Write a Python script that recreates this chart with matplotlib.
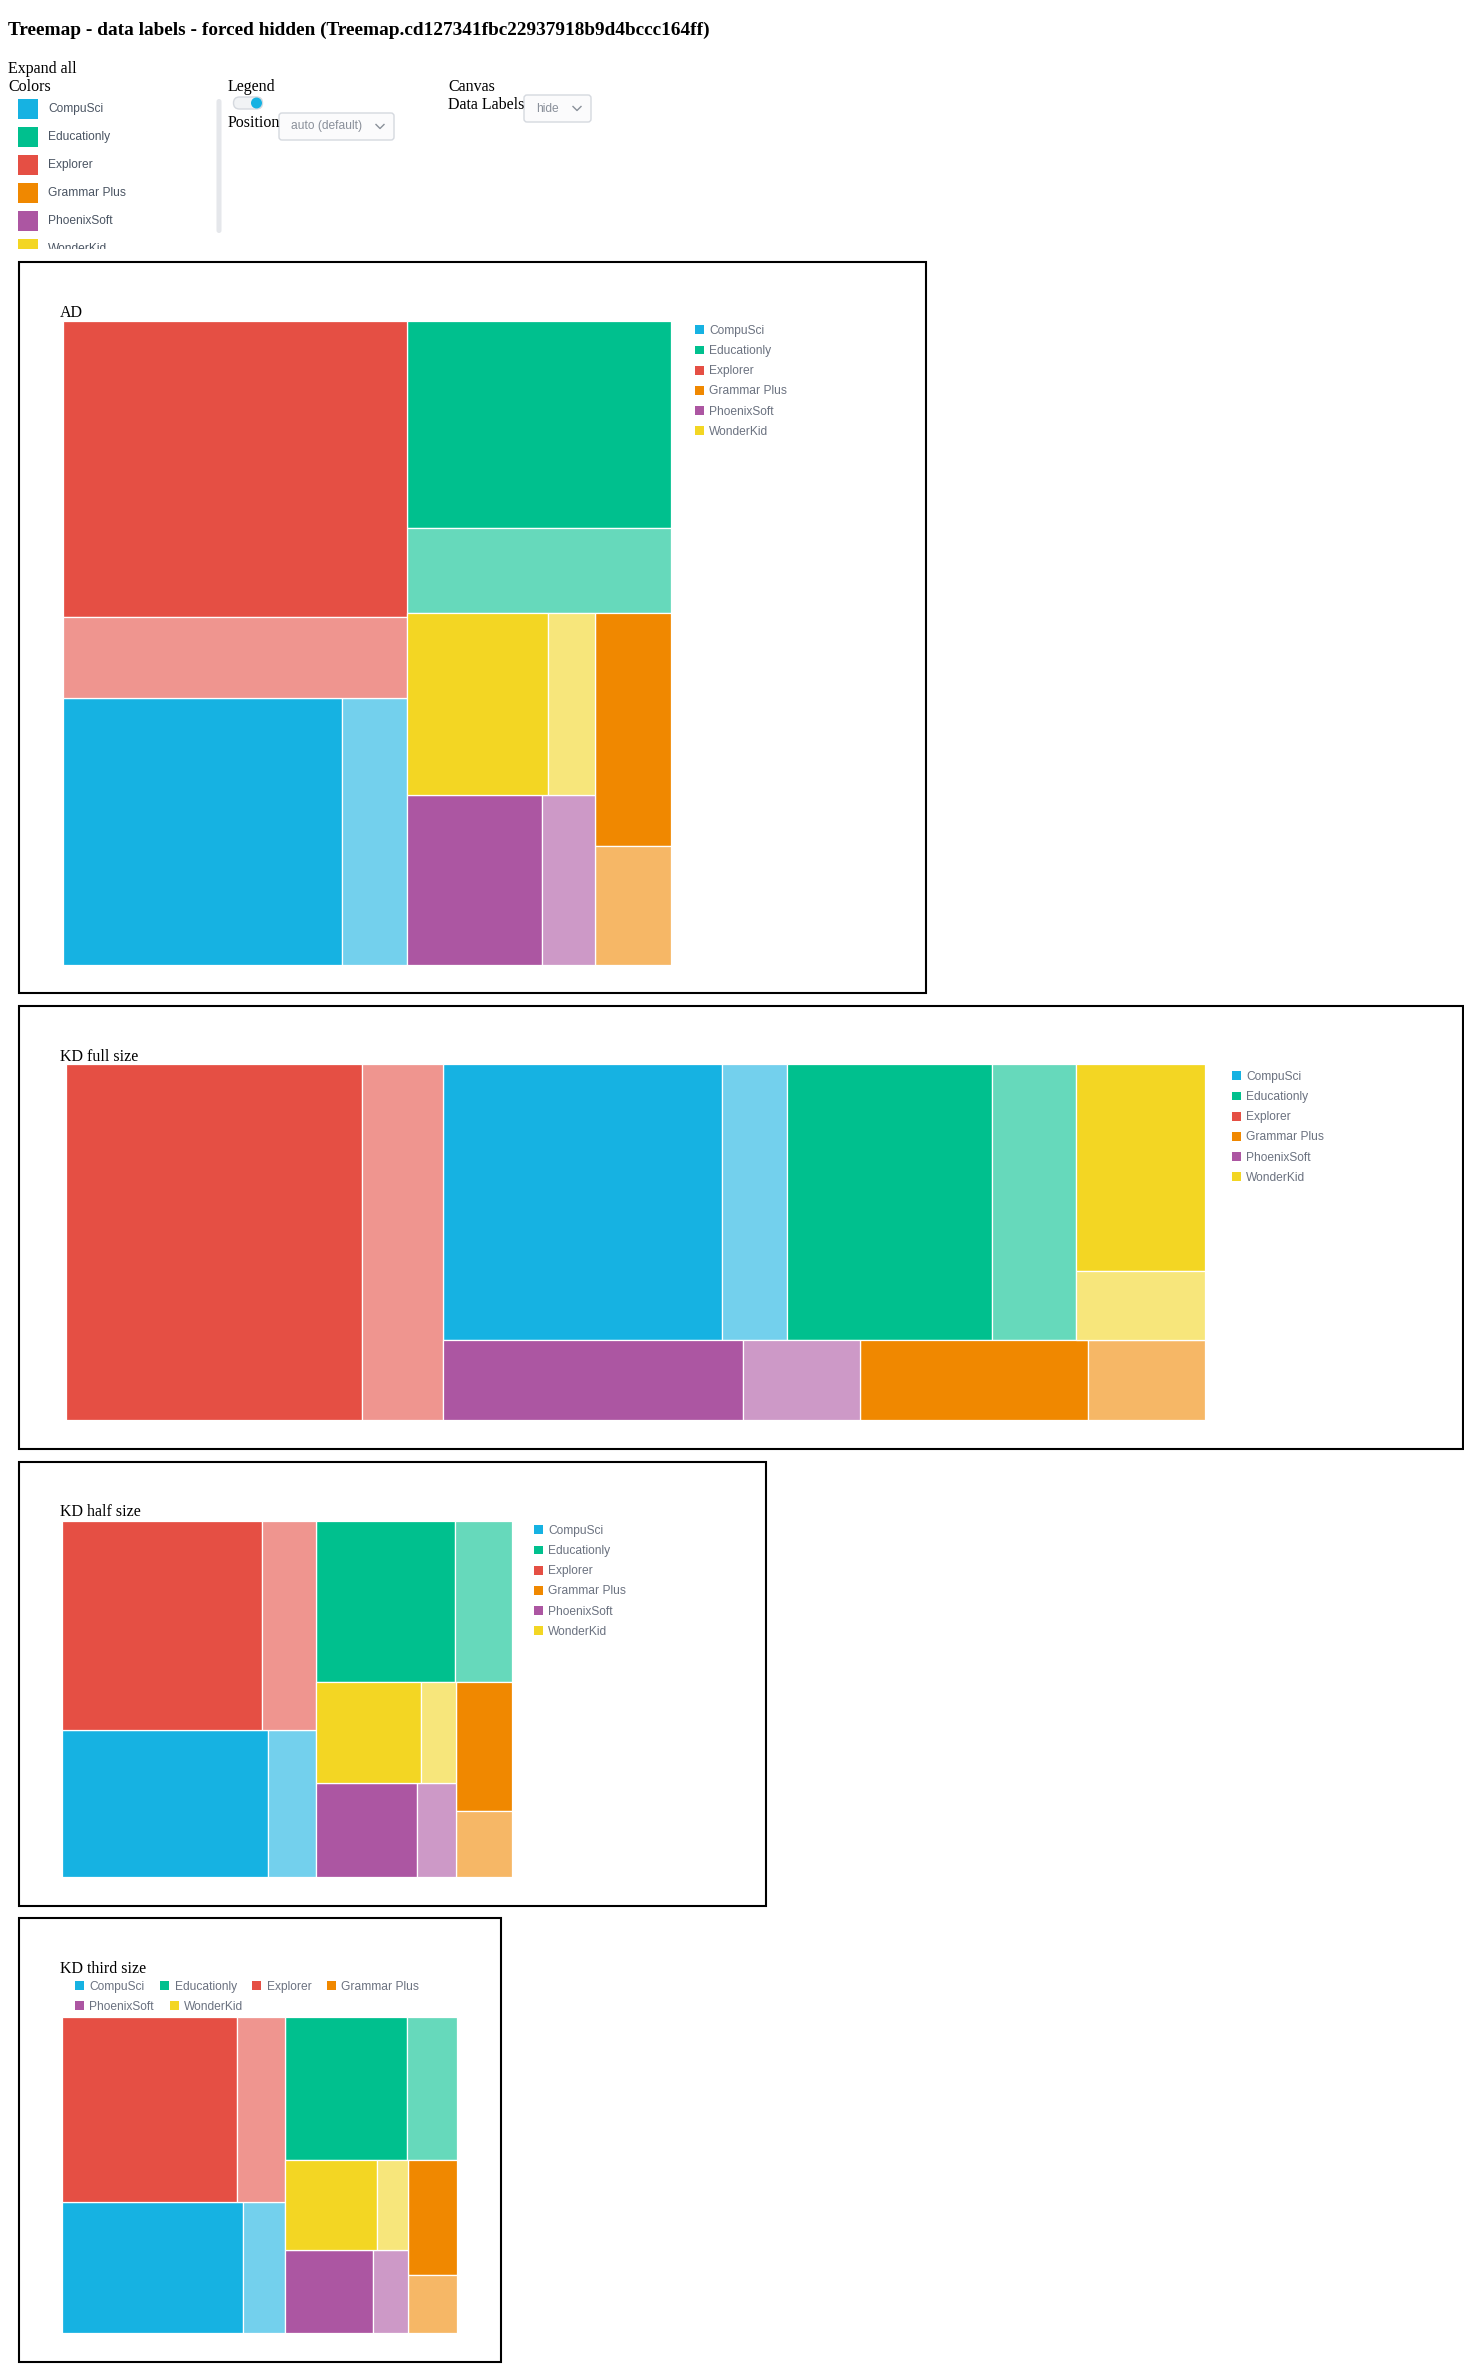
import matplotlib
matplotlib.use('Agg')
import matplotlib.pyplot as plt
from matplotlib.patches import Rectangle, FancyBboxPatch, Circle, Patch
from matplotlib.colors import to_rgba

# page size in pixels (dpi 100)
W, H = 1464, 2373

# data: each company has a main block and a smaller "other" block
companies = ['CompuSci', 'Educationly', 'Explorer', 'Grammar Plus', 'PhoenixSoft', 'WonderKid']
main_values = [190, 140, 260, 45, 59, 66]
other_values = [44, 57, 71, 23, 23, 22]
company_colors = ['#16b2e2', '#00c08e', '#e54f44', '#f08800', '#ac56a2', '#f3d623']

chart_titles = ['AD', 'KD full size', 'KD half size', 'KD third size']
page_title = 'Treemap - data labels - forced hidden (Treemap.cd127341fbc22937918b9d4bccc164ff)'

# strip plans: ('left', names) = column on the left edge, ('top', names) = row along the top
plan_ad = [('left', ['Explorer', 'CompuSci']), ('top', ['Educationly']),
           ('left', ['WonderKid', 'PhoenixSoft']), ('left', ['Grammar Plus'])]
plan_kd_full = [('left', ['Explorer']), ('top', ['CompuSci', 'Educationly', 'WonderKid']),
                ('top', ['PhoenixSoft', 'Grammar Plus'])]

SERIF = 'Liberation Serif'
SANS = 'Liberation Sans'

fig = plt.figure(figsize=(W / 100, H / 100), dpi=100)


def px_axes(x, y, w, h):
    # axes whose data coords are page pixels (y downwards)
    ax = fig.add_axes([x / W, 1 - (y + h) / H, w / W, h / H])
    ax.set_xlim(x, x + w)
    ax.set_ylim(y + h, y)
    ax.axis('off')
    return ax


def strip_layout(values, plan, x, y, w, h):
    total = sum(values[n] for _, grp in plan for n in grp)
    rects = {}
    for side, grp in plan:
        s = sum(values[n] for n in grp)
        if side == 'left':
            cw = w * s / total
            yy = y
            for n in grp:
                hh = h * values[n] / s
                rects[n] = (x, yy, cw, hh)
                yy += hh
            x += cw
            w -= cw
        else:
            rh = h * s / total
            xx = x
            for n in grp:
                ww = w * values[n] / s
                rects[n] = (xx, y, ww, rh)
                xx += ww
            y += rh
            h -= rh
        total -= s
    return rects


def draw_treemap(x, y, w, h, plan):
    ax = px_axes(x, y, w, h)
    totals = {c: m + o for c, m, o in zip(companies, main_values, other_values)}
    boxes = strip_layout(totals, plan, x, y, w, h)
    for c, m, o, col in zip(companies, main_values, other_values, company_colors):
        bx, by, bw, bh = boxes[c]
        side = 'top' if bw >= bh else 'left'
        parts = strip_layout({'main': m, 'other': o}, [(side, ['main', 'other'])], bx, by, bw, bh)
        for key, alpha in (('main', 1.0), ('other', 0.6)):
            rx, ry, rw, rh = parts[key]
            ax.add_patch(Rectangle((rx, ry), rw, rh, facecolor=to_rgba(col, alpha),
                                   edgecolor='white', linewidth=0.9))
    return ax


def draw_legend(x, y, names, colors, ncol=1):
    handles = [Patch(facecolor=c, edgecolor='none') for c in colors]
    fig.legend(handles, names, loc='upper left', bbox_to_anchor=(x / W, 1 - y / H),
               ncol=ncol, frameon=False, borderpad=0, borderaxespad=0,
               handlelength=0.75, handleheight=0.75, handletextpad=0.45,
               labelspacing=0.68, columnspacing=1.3,
               prop={'family': SANS, 'size': 8.64}, labelcolor='#6b7280')


def dropdown(ax, x0, y0, x1, y1, label):
    ax.add_patch(FancyBboxPatch((x0, y0), x1 - x0, y1 - y0,
                                boxstyle='round,pad=0,rounding_size=3',
                                facecolor='#fbfbfc', edgecolor='#d5d9df', linewidth=1))
    cy = (y0 + y1) / 2
    ax.text(x0 + 12, cy, label, family=SANS, fontsize=8.64, color='#8a909a', va='center')
    cx = x1 - 14
    ax.plot([cx - 4, cx, cx + 4], [cy - 2, cy + 2, cy - 2], color='#8a909a', lw=1)


# page overlay: text, controls and frames
page = px_axes(0, 0, W, H)

page.text(8, 35, page_title, family=SERIF, fontsize=13.9, fontweight='bold', color='black')
page.text(8, 73, 'Expand all', family=SERIF, fontsize=11.52)
page.text(8, 91, 'Colors', family=SERIF, fontsize=11.52)
page.text(228, 91, 'Legend', family=SERIF, fontsize=11.52)
page.text(228, 127, 'Position', family=SERIF, fontsize=11.52)
page.text(448, 91, 'Canvas', family=SERIF, fontsize=11.52)
page.text(448, 109, 'Data Labels', family=SERIF, fontsize=11.52)

# scrollbar of the colors list
page.add_patch(FancyBboxPatch((216.5, 99), 5, 134, boxstyle='round,pad=0,rounding_size=2.5',
                              facecolor='#e5e7eb', edgecolor='none'))
# legend toggle
page.add_patch(FancyBboxPatch((233.5, 97), 29, 12, boxstyle='round,pad=0,rounding_size=6',
                              facecolor='#f1f3f5', edgecolor='#d5d9df', linewidth=1))
page.add_patch(Circle((256.5, 103), 5.5, facecolor='#16b2e2', edgecolor='none'))

dropdown(page, 279, 113, 394, 140, 'auto (default)')
dropdown(page, 524, 95, 591, 122, 'hide')

# chart frames
for fx0, fy0, fx1, fy1 in [(19, 262, 926, 993), (19, 1006, 1463, 1449),
                           (19, 1462, 766, 1906), (19, 1918, 501, 2362)]:
    page.add_patch(Rectangle((fx0, fy0), fx1 - fx0, fy1 - fy0, facecolor='none',
                             edgecolor='black', linewidth=1.5))

# chart titles
for (tx, ty), t in zip([(60, 317), (60, 1061), (60, 1516), (60, 1973)], chart_titles):
    page.text(tx, ty, t, family=SERIF, fontsize=11.52, color='black')

# colors list (clipped at the bottom, like the scroll box)
panel = px_axes(0, 95, 214, 154)
for i, (c, col) in enumerate(zip(companies, company_colors)):
    top = 99 + 28 * i
    panel.add_patch(Rectangle((18, top), 20, 20, facecolor=col, edgecolor='none'))
    panel.text(48, top + 10, c, family=SANS, fontsize=8.64, color='#4b5563',
               va='center', clip_on=True)

# treemaps
draw_treemap(63, 321, 608, 644, plan_ad)
draw_treemap(66, 1064, 1139, 356, plan_kd_full)
draw_treemap(62, 1521, 450, 356, plan_ad)
draw_treemap(62, 2017, 395, 316, plan_ad)

# legends
draw_legend(695, 325, companies, company_colors)
draw_legend(1232, 1071, companies, company_colors)
draw_legend(534, 1525, companies, company_colors)
draw_legend(75, 1981, companies[:4], company_colors[:4], ncol=4)
draw_legend(75, 2001, companies[4:], company_colors[4:], ncol=2)

fig.savefig('out.png', dpi=100)
